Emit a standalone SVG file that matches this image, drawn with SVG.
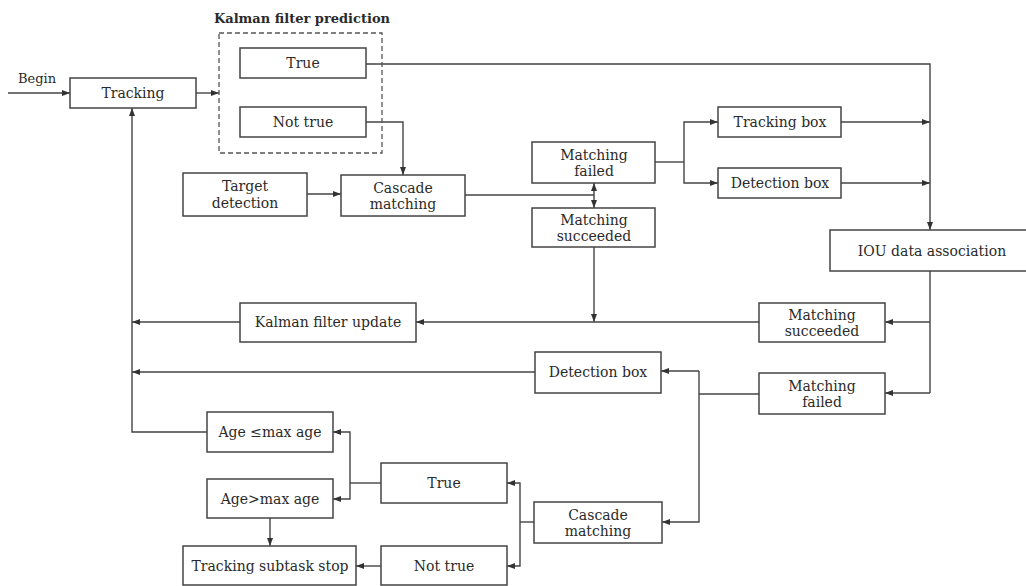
<svg xmlns="http://www.w3.org/2000/svg" width="1026" height="586" viewBox="0 0 1026 586">
<defs>
<marker id="ah" markerUnits="userSpaceOnUse" markerWidth="8" markerHeight="6" refX="8" refY="3" orient="auto">
<path d="M0,0 L8,3 L0,6 z" fill="#333"/>
</marker>
<style>
.box{fill:#fff;stroke:#444;stroke-width:1.5}
.dash{fill:none;stroke:#555;stroke-width:1.3;stroke-dasharray:5 3}
.t{font-family:"DejaVu Serif","Liberation Serif",serif;font-size:14px;fill:#2a2a2a;text-anchor:middle;dominant-baseline:central}
.c{fill:none;stroke:#444;stroke-width:1.4}
.a{marker-end:url(#ah)}
</style>
</defs>
<rect width="1026" height="586" fill="#fff"/>

<g id="connectors">
<path class="c a" d="M8,93 H70"/>
<path class="c a" d="M196,93 H219"/>
<path class="c a" d="M366,64 H930 V230"/>
<path class="c a" d="M366,122 H403 V175"/>
<path class="c a" d="M307,194 H341"/>
<path class="c" d="M465,195 H594"/>
<path class="c a" d="M594,195 V183"/>
<path class="c a" d="M594,195 V208"/>
<path class="c" d="M655,162 H684"/>
<path class="c a" d="M684,162 V122 H718"/>
<path class="c a" d="M684,162 V183 H718"/>
<path class="c a" d="M841,122 H930"/>
<path class="c a" d="M841,183 H930"/>
<path class="c" d="M930,271 V393"/>
<path class="c a" d="M930,322 H885"/>
<path class="c a" d="M930,393 H885"/>
<path class="c a" d="M594,247 V322"/>
<path class="c a" d="M759,322 H416"/>
<path class="c a" d="M240,322 H132"/>
<path class="c a" d="M535,372 H132"/>
<path class="c" d="M759,394 H699"/>
<path class="c a" d="M699,371 V522 H662"/>
<path class="c a" d="M699,371 H661"/>
<path class="c" d="M534,522 H520"/>
<path class="c a" d="M520,522 V483 H507"/>
<path class="c a" d="M520,522 V566 H507"/>
<path class="c" d="M381,483 H350"/>
<path class="c a" d="M350,483 V432 H333"/>
<path class="c a" d="M350,483 V499 H333"/>
<path class="c a" d="M270,518 V546"/>
<path class="c a" d="M381,566 H356"/>
<path class="c a" d="M207,432 H132 V108"/>
</g>

<text class="t" x="37" y="78" style="font-size:13px">Begin</text>

<g id="tracking"><rect class="box" x="70" y="78" width="126" height="30"/><text class="t" x="133" y="93">Tracking</text></g>

<g id="kf-prediction"><rect class="dash" x="219" y="33" width="163" height="120"/><text class="t" x="302" y="18" style="font-size:13px;font-weight:bold">Kalman filter prediction</text></g>

<g id="true1"><rect class="box" x="240" y="48" width="126" height="30"/><text class="t" x="303" y="63">True</text></g>
<g id="nottrue1"><rect class="box" x="240" y="107" width="126" height="30"/><text class="t" x="303" y="122">Not true</text></g>

<g id="target"><rect class="box" x="183" y="173" width="124" height="43"/><text class="t" x="245" y="186">Target</text><text class="t" x="245" y="203">detection</text></g>
<g id="cascade1"><rect class="box" x="341" y="175" width="124" height="41"/><text class="t" x="403" y="188">Cascade</text><text class="t" x="403" y="204">matching</text></g>

<g id="mfail1"><rect class="box" x="532" y="142" width="123" height="41"/><text class="t" x="594" y="155">Matching</text><text class="t" x="594" y="171">failed</text></g>
<g id="msucc1"><rect class="box" x="532" y="208" width="123" height="39"/><text class="t" x="594" y="220">Matching</text><text class="t" x="594" y="236">succeeded</text></g>

<g id="trackbox"><rect class="box" x="718" y="107" width="123" height="30"/><text class="t" x="780" y="122">Tracking box</text></g>
<g id="detbox1"><rect class="box" x="718" y="168" width="123" height="30"/><text class="t" x="780" y="183">Detection box</text></g>

<g id="iou"><rect class="box" x="830" y="230" width="205" height="41"/><text class="t" x="932" y="251">IOU data association</text></g>

<g id="msucc2"><rect class="box" x="759" y="303" width="126" height="39"/><text class="t" x="822" y="315">Matching</text><text class="t" x="822" y="331">succeeded</text></g>
<g id="kfupdate"><rect class="box" x="240" y="303" width="176" height="39"/><text class="t" x="328" y="322">Kalman filter update</text></g>

<g id="detbox2"><rect class="box" x="535" y="352" width="126" height="41"/><text class="t" x="598" y="372">Detection box</text></g>
<g id="mfail2"><rect class="box" x="759" y="373" width="126" height="41"/><text class="t" x="822" y="386">Matching</text><text class="t" x="822" y="402">failed</text></g>

<g id="agele"><rect class="box" x="207" y="412" width="126" height="40"/><text class="t" x="270" y="432">Age ≤max age</text></g>
<g id="agegt"><rect class="box" x="207" y="479" width="126" height="39"/><text class="t" x="270" y="499">Age&gt;max age</text></g>

<g id="true2"><rect class="box" x="381" y="463" width="126" height="40"/><text class="t" x="444" y="483">True</text></g>
<g id="cascade2"><rect class="box" x="534" y="502" width="128" height="41"/><text class="t" x="598" y="515">Cascade</text><text class="t" x="598" y="531">matching</text></g>

<g id="stop"><rect class="box" x="183" y="546" width="173" height="39"/><text class="t" x="270" y="566">Tracking subtask stop</text></g>
<g id="nottrue2"><rect class="box" x="381" y="546" width="126" height="39"/><text class="t" x="444" y="566">Not true</text></g>
</svg>
